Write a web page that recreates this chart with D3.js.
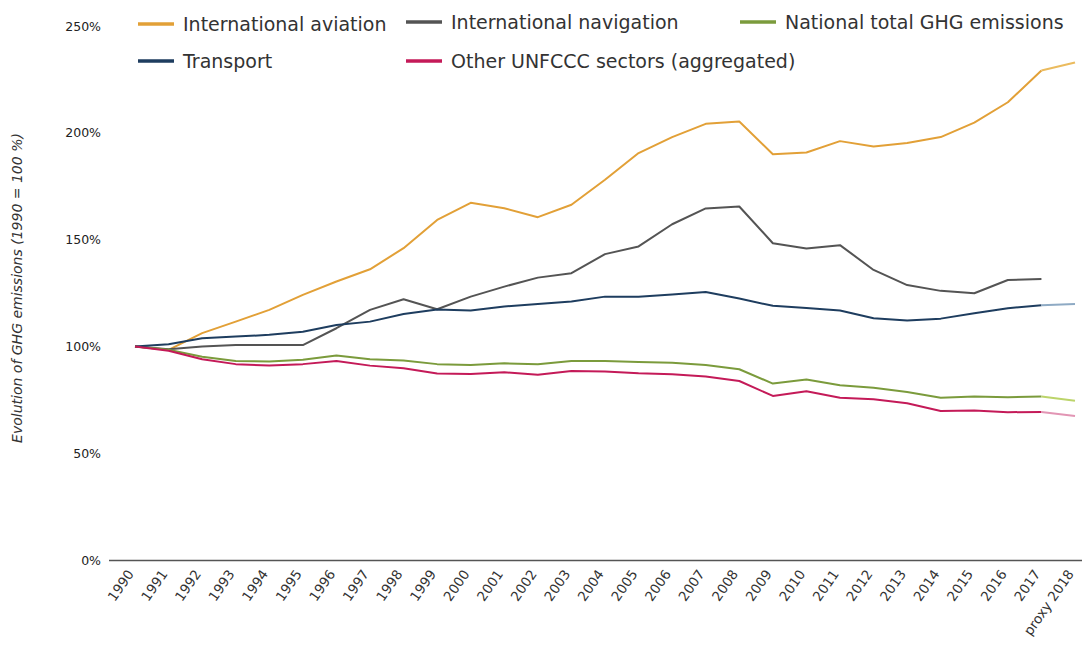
<!DOCTYPE html>
<html>
<head>
<meta charset="utf-8">
<script src="https://cdn.jsdelivr.net/npm/d3@7"></script>
<style>
  html, body { margin: 0; padding: 0; background: #fff; }
  svg { display: block; font-family: "DejaVu Sans", Verdana, sans-serif; }
</style>
</head>
<body>
<svg id="chart" width="1082" height="646"></svg>
<script>
const years = ["1990","1991","1992","1993","1994","1995","1996","1997","1998","1999",
  "2000","2001","2002","2003","2004","2005","2006","2007","2008","2009",
  "2010","2011","2012","2013","2014","2015","2016","2017","proxy 2018"];

const aviation = [100, 98.4, 106.2, 111.6, 117.1, 124.1, 130.4, 136.1, 146, 159.2,
  167.2, 164.7, 160.5, 166.3, 178, 190.5, 198, 204.2, 205.3, 190,
  190.8, 196.1, 193.6, 195.2, 198, 204.8, 214.3, 229.2, 232.9];
const navigation = [100, 98.7, 100, 100.6, 100.6, 100.6, 108.5, 117.1, 122.1, 117.4,
  123.3, 128, 132.2, 134.3, 143.2, 146.8, 157.2, 164.6, 165.5, 148.3,
  145.8, 147.4, 135.8, 128.7, 126, 124.9, 131.1, 131.6, null];
const nationalTotal = [100, 98.4, 95.2, 93.2, 92.9, 93.7, 95.7, 94, 93.4, 91.7,
  91.3, 92.1, 91.6, 93.2, 93.2, 92.7, 92.3, 91.3, 89.3, 82.6,
  84.5, 81.8, 80.6, 78.7, 76, 76.5, 76.2, 76.5, 74.6];
const transport = [100, 101, 103.8, 104.6, 105.4, 106.9, 110, 111.6, 115.2, 117.3,
  116.8, 118.7, 119.9, 121, 123.3, 123.3, 124.3, 125.5, 122.4, 119,
  118, 116.8, 113.2, 112.1, 113, 115.5, 117.9, 119.3, 119.9];
const otherSectors = [100, 98, 94, 91.7, 91, 91.7, 93.2, 91, 89.8, 87.3,
  87.1, 87.9, 86.7, 88.5, 88.2, 87.4, 87, 85.9, 83.8, 76.8,
  79, 76, 75.3, 73.4, 69.8, 70, 69.2, 69.3, 67.4];

const yTicks = [0, 50, 100, 150, 200, 250];
const seriesNames = ["International aviation", "International navigation", "National total GHG emissions",
  "Transport", "Other UNFCCC sectors (aggregated)"];
const yTitle = "Evolution of GHG emissions (1990 = 100 %)";

const series = [
  {name: seriesNames[0], values: aviation, color: "#e2a037", proxy: "#ebbb5e"},
  {name: seriesNames[1], values: navigation, color: "#545454", proxy: "#9a9a9a"},
  {name: seriesNames[2], values: nationalTotal, color: "#7b9b3c", proxy: "#bcd46a"},
  {name: seriesNames[3], values: transport, color: "#1e3d5f", proxy: "#8eaac4"},
  {name: seriesNames[4], values: otherSectors, color: "#c41a58", proxy: "#e295b4"}
];

const svg = d3.select("#chart");
const x = d3.scalePoint().domain(years).range([135, 1075]);
const y = d3.scaleLinear().domain([0, 250]).range([560, 26]);

// y axis labels
const yAxis = svg.append("g").attr("transform", "translate(101,0)")
  .call(d3.axisLeft(y).tickValues(yTicks).tickFormat(d => d + "%").tickSize(0).tickPadding(0));
yAxis.select(".domain").remove();
yAxis.selectAll("text").attr("font-size", 12.5).attr("fill", "#222")
  .attr("font-family", "DejaVu Sans, sans-serif");

// x axis
const xAxis = svg.append("g").attr("transform", "translate(0,560)")
  .call(d3.axisBottom(x).tickSize(0).tickPadding(0));
xAxis.select(".domain").remove();
svg.append("line").attr("x1", 109).attr("x2", 1082).attr("y1", 560.5).attr("y2", 560.5)
  .attr("stroke", "#555").attr("stroke-width", 1.5);
xAxis.selectAll("text")
  .attr("font-size", 13.5).attr("fill", "#333").attr("font-family", "DejaVu Sans, sans-serif")
  .attr("text-anchor", "end")
  .attr("dy", 0)
  .attr("transform", "translate(-1,14) rotate(-55)");

// y title
svg.append("text")
  .attr("transform", "translate(22,288) rotate(-90)")
  .attr("text-anchor", "middle")
  .attr("font-size", 14).attr("font-style", "italic").attr("fill", "#333")
  .text(yTitle);

// lines
const line = d3.line()
  .defined(d => d.v !== null)
  .x(d => x(d.year)).y(d => y(d.v));

series.forEach(s => {
  const pts = s.values.map((v, i) => ({year: years[i], v: v}));
  const main = pts.slice(0, years.length - 1);
  const tail = pts.slice(years.length - 2);
  svg.append("path").datum(main).attr("d", line)
    .attr("fill", "none").attr("stroke", s.color).attr("stroke-width", 2)
    .attr("stroke-linejoin", "round");
  if (tail.every(d => d.v !== null)) {
    svg.append("path").datum(tail).attr("d", line)
      .attr("fill", "none").attr("stroke", s.proxy).attr("stroke-width", 2);
  }
});

// legend
const legendCols = [138, 406, 740];
const legendRows = [22, 61];
const leg = svg.append("g");
series.forEach((s, i) => {
  const col = i % 3, row = Math.floor(i / 3);
  const lx = legendCols[col], ly = legendRows[row] + (row === 0 && col === 0 ? 2 : 0);
  leg.append("line").attr("x1", lx).attr("x2", lx + 36).attr("y1", ly).attr("y2", ly)
    .attr("stroke", s.color).attr("stroke-width", 3.5);
  leg.append("text").attr("x", lx + 45).attr("y", ly + 6.5)
    .attr("font-size", 19).attr("fill", "#333").text(s.name);
});
</script>
</body>
</html>
